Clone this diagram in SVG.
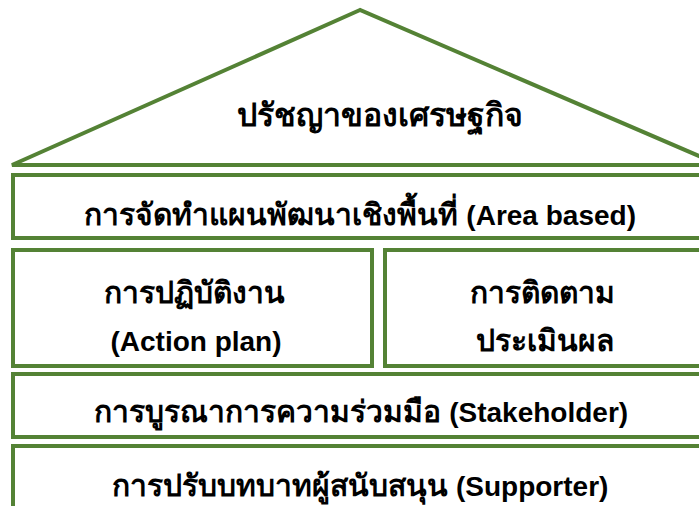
<svg xmlns="http://www.w3.org/2000/svg" width="699" height="506" viewBox="0 0 699 506">
<style>
.box{fill:#fff;stroke:#548235;stroke-width:4}
.t{font-family:"Liberation Sans",Arial,sans-serif;font-weight:bold;font-size:30px;fill:#000;text-anchor:middle}
.en{font-size:28px}
</style>
<rect width="699" height="506" fill="#fff"/>
<g id="roof">
<polygon class="box" points="360,10 12,165 720,165"/>
<text class="t" x="380" y="126" style="font-size:32px">ปรัชญาของเศรษฐกิจ</text>
</g>
<g id="area">
<rect class="box" x="13" y="175" width="710" height="63"/>
<text class="t" x="360" y="225">การจัดทำแผนพัฒนาเชิงพื้นที่ <tspan class="en">(Area based)</tspan></text>
</g>
<g id="action">
<rect class="box" x="13" y="250" width="359" height="116"/>
<text class="t" x="194" y="303">การปฏิบัติงาน</text>
<text class="t en" x="196" y="351">(Action plan)</text>
</g>
<g id="monitor">
<rect class="box" x="385" y="250" width="340" height="116"/>
<text class="t" x="542" y="303">การติดตาม</text>
<text class="t" x="545" y="351">ประเมินผล</text>
</g>
<g id="stakeholder">
<rect class="box" x="13" y="374" width="710" height="63"/>
<text class="t" x="361" y="422">การบูรณาการความร่วมมือ <tspan class="en">(Stakeholder)</tspan></text>
</g>
<g id="supporter">
<rect class="box" x="13" y="446" width="710" height="80"/>
<text class="t" x="360" y="496">การปรับบทบาทผู้สนับสนุน <tspan class="en">(Supporter)</tspan></text>
</g>
<g id="connectors"/>
</svg>
